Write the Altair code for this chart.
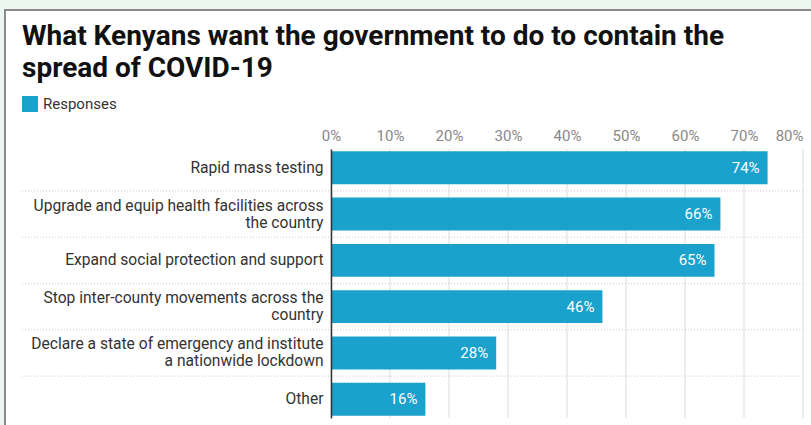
import altair as alt
import pandas as pd

categories = [
    "Rapid mass testing",
    "Upgrade and equip health facilities across|the country",
    "Expand social protection and support",
    "Stop inter-county movements across the|country",
    "Declare a state of emergency and institute|a nationwide lockdown",
    "Other",
]
values = [74, 66, 65, 46, 28, 16]
series_name = ["Responses"] * len(categories)
ticks = [0, 10, 20, 30, 40, 50, 60, 70, 80]

BLUE = "#1aa1cc"
W, H = 472, 269
step = H / (6 - 0.29 + 0.1)

df = pd.DataFrame({"category": categories, "value": values, "series": series_name,
                   "label": [f"{v}%" for v in values]})
sep_df = pd.DataFrame({"category": categories[:-1]})
tick_df = pd.DataFrame({"t": ticks})

yscale = alt.Scale(domain=categories, paddingInner=0.29, paddingOuter=0.05)
xscale = alt.Scale(domain=[0, 80], nice=False)

card = alt.Chart(pd.DataFrame({"a": [0]})).mark_rect(
    fill="white", stroke="#8a8a8a", strokeWidth=2
).encode(
    x=alt.value(5 - 331), x2=alt.value(830 - 331),
    y=alt.value(10 - 149), y2=alt.value(440 - 149),
)

grid = alt.Chart(tick_df).mark_rule(color="#dcdcdc", strokeWidth=1).encode(
    x=alt.X("t:Q", scale=xscale)
)

seps = alt.Chart(sep_df).mark_rule(
    color="#c8c8c8", strokeDash=[1, 2], strokeWidth=1, yOffset=step / 2
).encode(
    y=alt.Y("category:N", scale=yscale, sort=categories),
    x=alt.value(22 - 331), x2=alt.value(W),
)

bars = alt.Chart(df).mark_bar(cornerRadius=0).encode(
    y=alt.Y("category:N", scale=yscale, sort=categories,
            axis=alt.Axis(title=None, labelExpr="split(datum.label, '|')",
                          labelFont="Roboto", labelFontSize=15.6, labelColor="#333333",
                          labelLineHeight=17, labelPadding=8, ticks=False,
                          labelOffset=alt.expr("indexof(datum.value, '|') >= 0 ? -8.5 : 0"),
                          domain=True, domainColor="#333333", domainWidth=1.5,
                          grid=False, zindex=1, labelLimit=400)),
    x=alt.X("value:Q", scale=xscale,
            axis=alt.Axis(orient="top", title=None, values=ticks,
                          labelExpr="datum.value + '%'", labelFont="Roboto",
                          labelFontSize=15, labelColor="#888888", ticks=False,
                          domain=False, grid=False, labelPadding=6, zindex=1,
                          labelAlign=alt.expr("datum.value >= 80 ? 'right' : 'center'"))),
    color=alt.Color("series:N", scale=alt.Scale(range=[BLUE]),
                    legend=alt.Legend(title=None, orient="none", legendX=22 - 331,
                                      legendY=96 - 149, symbolType="square",
                                      symbolSize=256, symbolStrokeWidth=0,
                                      symbolOpacity=1,
                                      labelFont="Roboto", labelFontSize=15,
                                      labelColor="#333333", labelOffset=5)),
)

labels = alt.Chart(df).mark_text(
    align="right", baseline="middle", dx=-8, color="white",
    font="Roboto", fontSize=15
).encode(
    y=alt.Y("category:N", scale=yscale, sort=categories),
    x=alt.X("value:Q", scale=xscale),
    text="label:N",
)

chart = alt.layer(card, grid, seps, bars, labels).properties(
    width=W, height=H,
    title=alt.Title(
        ["What Kenyans want the government to do to contain the", "spread of COVID-19"],
        anchor="start", frame="group", dx=22 - 331, dy=84, fontSize=28, font="Roboto",
        fontWeight="bold", color="#111111", lineHeight=32, offset=10,
    ),
    background="#ecf7f2",
    padding={"left": 331, "top": 149, "right": 8, "bottom": 7},
    autosize=alt.AutoSizeParams(type="none"),
).configure_view(stroke=None)

chart.save("out.html", embed_options={"renderer": "svg", "actions": False})
